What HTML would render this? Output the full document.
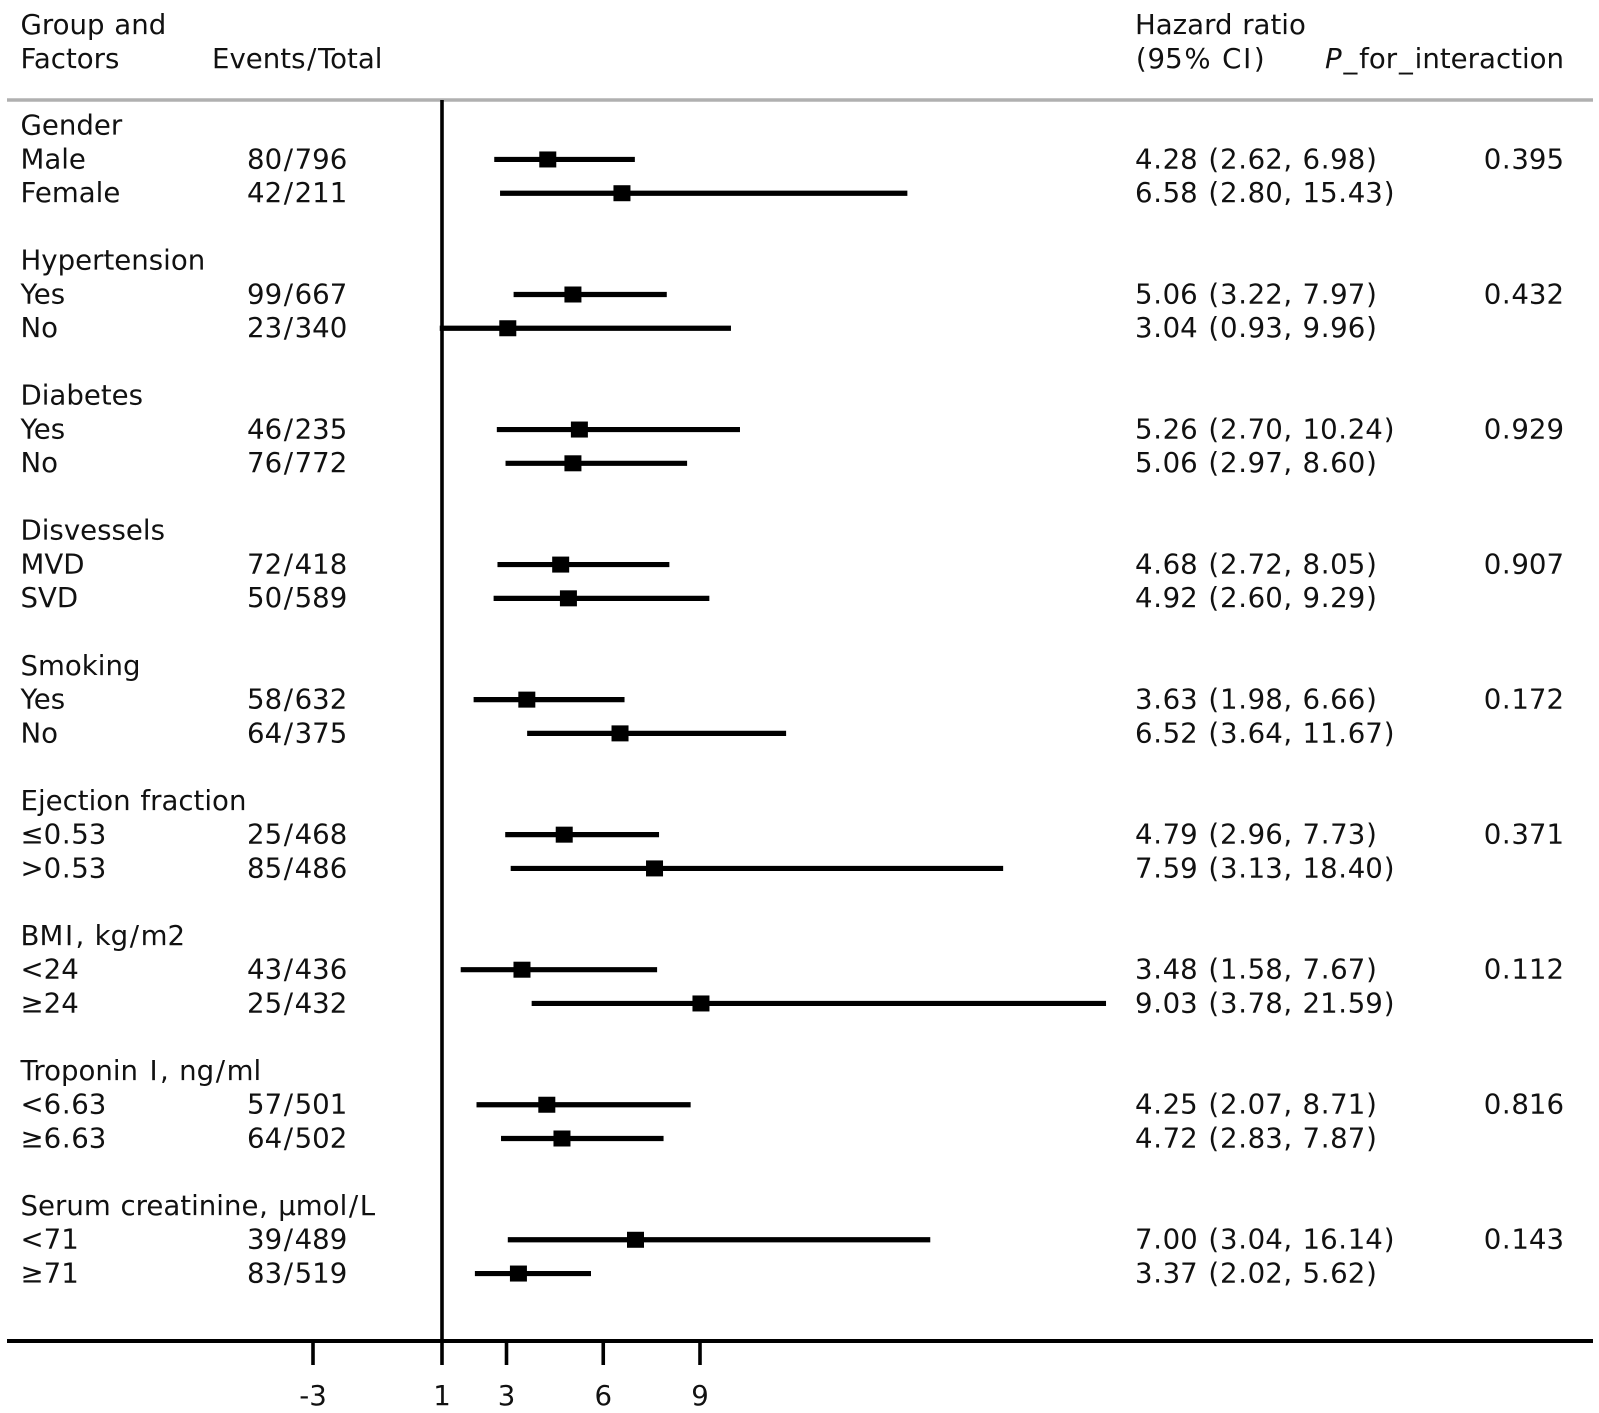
<!DOCTYPE html>
<html lang="en">
<head>
<meta charset="utf-8">
<title>Subgroup forest plot</title>
<style>
html,body{margin:0;padding:0;background:#fff;}
svg{display:block;}
text{font-family:"DejaVu Sans","Liberation Sans",sans-serif;font-size:27.6px;fill:#111;}
</style>
</head>
<body>
<svg id="chart" xmlns="http://www.w3.org/2000/svg" width="1599" height="1413" viewBox="0 0 1599 1413">
  <rect x="0" y="0" width="1599" height="1413" fill="#fff"/>
  <text class="sp" x="20.5" y="34">Group and</text>
  <text class="sp" x="20.5" y="68">Factors</text>
  <text class="sp" x="212" y="68">Events/Total</text>
  <text class="sp" x="1135" y="34">Hazard ratio</text>
  <text class="sp" x="1135" y="68">(95% CI)</text>
  <text x="1564" y="68" text-anchor="end"><tspan font-style="italic">P</tspan><tspan class="sp">_for_interaction</tspan></text>
  <line x1="7" x2="1593" y1="100" y2="100" stroke="#b0b0b0" stroke-width="3.4"/>
  <g id="marks"></g>
  <g id="rows"></g>
  <g id="axis"></g>
</svg>
<script>
const groupNames = ["Gender","Hypertension","Diabetes","Disvessels","Smoking","Ejection fraction","BMI, kg/m2","Troponin I, ng/ml","Serum creatinine, μmol/L"];
const rowLabels = ["Male","Female","Yes","No","Yes","No","MVD","SVD","Yes","No","≤0.53",">0.53","<24","≥24","<6.63","≥6.63","<71","≥71"];
const eventCounts = ["80/796","42/211","99/667","23/340","46/235","76/772","72/418","50/589","58/632","64/375","25/468","85/486","43/436","25/432","57/501","64/502","39/489","83/519"];
const hazardRatios = [4.28,6.58,5.06,3.04,5.26,5.06,4.68,4.92,3.63,6.52,4.79,7.59,3.48,9.03,4.25,4.72,7.00,3.37];
const ciLower = [2.62,2.80,3.22,0.93,2.70,2.97,2.72,2.60,1.98,3.64,2.96,3.13,1.58,3.78,2.07,2.83,3.04,2.02];
const ciUpper = [6.98,15.43,7.97,9.96,10.24,8.60,8.05,9.29,6.66,11.67,7.73,18.40,7.67,21.59,8.71,7.87,16.14,5.62];
const pValues = ["0.395","0.432","0.929","0.907","0.172","0.371","0.112","0.816","0.143"];
const xTicks = [-3,1,3,6,9];

const SVG_NS = "http://www.w3.org/2000/svg";
const xScale = v => 442 + (v - 1) * 32.25;
const yScale = rowIndex => 125.2 + rowIndex * 33.76;
const BASELINE_OFFSET = 9.4;
const MARK_OFFSET = 0.5;
const AXIS_Y = 1341;

function make(parent, tag, attrs, content) {
  const el = document.createElementNS(SVG_NS, tag);
  for (const k in attrs) el.setAttribute(k, attrs[k]);
  if (content !== undefined) el.textContent = content;
  parent.appendChild(el);
  return el;
}

const rowsG = document.getElementById("rows");
const marksG = document.getElementById("marks");
const axisG = document.getElementById("axis");

groupNames.forEach((name, g) => {
  const groupY = yScale(g * 4);
  const title = make(rowsG, "text", {x: 20.5, y: groupY + BASELINE_OFFSET, class: "sp"}, name);
  
  

  for (let r = 0; r < 2; r++) {
    const i = g * 2 + r;
    const y = yScale(g * 4 + r + 1);
    const base = y + BASELINE_OFFSET;
    const my = y + MARK_OFFSET;

    const label = make(rowsG, "text", {x: 20.5, y: base, class: "sp"}, rowLabels[i]);
    
    

    const events = make(rowsG, "text", {x: 247, y: base, class: "sp"}, eventCounts[i]);
    
    

    const hrText = hazardRatios[i].toFixed(2) + " (" + ciLower[i].toFixed(2) + ", " + ciUpper[i].toFixed(2) + ")";
    const hr = make(rowsG, "text", {x: 1135, y: base, class: "sp"}, hrText);
    
    

    if (r === 0) {
      const p = make(rowsG, "text", {x: 1564, y: base, "text-anchor": "end", class: "sp"}, pValues[g]);
      
      
    }

    const ci = make(marksG, "line", {x1: xScale(ciLower[i]), x2: xScale(ciUpper[i]), y1: my, y2: my, stroke: "#000", "stroke-width": 5.2});
    
    

    const sq = make(marksG, "rect", {x: xScale(hazardRatios[i]) - 8.5, y: my - 8, width: 17, height: 16, fill: "#000"});
    
    
  }
});

const refLine = make(axisG, "line", {x1: xScale(1), x2: xScale(1), y1: 100, y2: AXIS_Y, stroke: "#000", "stroke-width": 3.6});



const axisLine = make(axisG, "line", {x1: 7, x2: 1593, y1: AXIS_Y, y2: AXIS_Y, stroke: "#000", "stroke-width": 4});



xTicks.forEach(t => {
  const tick = make(axisG, "line", {x1: xScale(t), x2: xScale(t), y1: AXIS_Y, y2: 1365, stroke: "#000", "stroke-width": 3.6});
  
  

  const lab = make(axisG, "text", {x: xScale(t), y: 1405, "text-anchor": "middle"}, String(t));
  
  
});

/* Widen punctuation so the installed font's advances match the reference typeface. */
const extraAdvance = {" ": 0.94, "(": 1.77, ")": 1.77, ",": 1.27, ".": 1.27, "/": 3.2, "%": 3.5, "I": 3.5, "_": 3.75};
document.querySelectorAll(".sp").forEach(el => {
  const chars = Array.from(el.textContent);
  const dx = new Array(chars.length + 1).fill(0);
  chars.forEach((c, i) => {
    const e = extraAdvance[c] || 0;
    dx[i] += e / 2;
    dx[i + 1] += e / 2;
  });
  el.setAttribute("dx", dx.slice(0, chars.length).map(v => v.toFixed(2)).join(" "));
});
</script>
</body>
</html>
